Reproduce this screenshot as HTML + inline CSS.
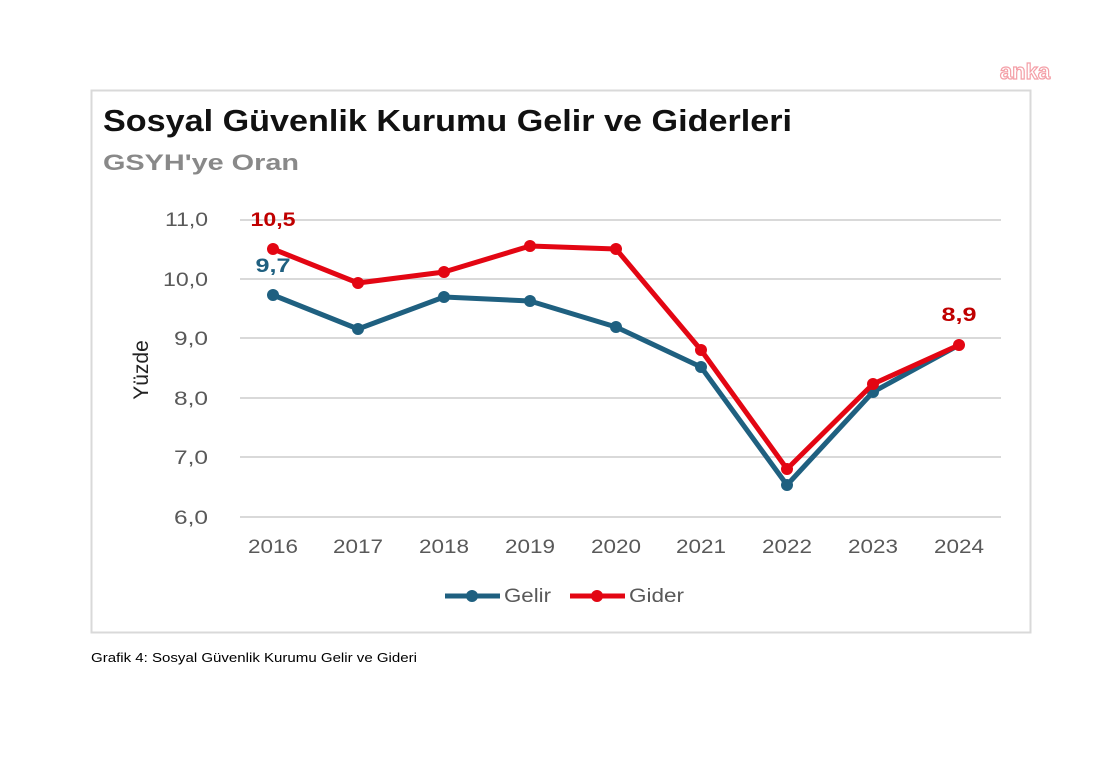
<!DOCTYPE html>
<html><head><meta charset="utf-8"><style>
html,body{margin:0;padding:0;background:#fff;}
svg{display:block;font-family:"Liberation Sans",sans-serif;}
</style></head><body>
<svg width="1112" height="784" viewBox="0 0 1112 784" xmlns="http://www.w3.org/2000/svg">
<rect width="1112" height="784" fill="#fff"/>
<text x="1025" y="79" font-size="22" font-weight="bold" fill="#fff" stroke="#f4a0a8" stroke-width="1.2" text-anchor="middle">anka</text>
<rect x="91.5" y="90.5" width="939" height="542" fill="none" stroke="#d9d9d9" stroke-width="2"/>
<text x="103" y="131" font-size="31" font-weight="bold" fill="#111" textLength="689" lengthAdjust="spacingAndGlyphs">Sosyal Güvenlik Kurumu Gelir ve Giderleri</text>
<text x="103" y="170" font-size="22" font-weight="bold" fill="#898989" textLength="196" lengthAdjust="spacingAndGlyphs">GSYH'ye Oran</text>
<g stroke="#d9d9d9" stroke-width="2">
<line x1="240" x2="1001" y1="220" y2="220"/><line x1="240" x2="1001" y1="279" y2="279"/>
<line x1="240" x2="1001" y1="338" y2="338"/><line x1="240" x2="1001" y1="398" y2="398"/>
<line x1="240" x2="1001" y1="457" y2="457"/><line x1="240" x2="1001" y1="517" y2="517"/>
</g>
<g font-size="19" fill="#595959" text-anchor="end">
<text x="208" y="226" textLength="43" lengthAdjust="spacingAndGlyphs">11,0</text><text x="208" y="286" textLength="45" lengthAdjust="spacingAndGlyphs">10,0</text><text x="208" y="345" textLength="34" lengthAdjust="spacingAndGlyphs">9,0</text>
<text x="208" y="405" textLength="34" lengthAdjust="spacingAndGlyphs">8,0</text><text x="208" y="464" textLength="34" lengthAdjust="spacingAndGlyphs">7,0</text><text x="208" y="524" textLength="34" lengthAdjust="spacingAndGlyphs">6,0</text>
</g>
<text transform="translate(148,370) rotate(-90)" font-size="21" fill="#222" text-anchor="middle">Yüzde</text>
<g font-size="19" fill="#595959" text-anchor="middle">
<text x="273" y="553" textLength="50" lengthAdjust="spacingAndGlyphs">2016</text><text x="358" y="553" textLength="50" lengthAdjust="spacingAndGlyphs">2017</text><text x="444" y="553" textLength="50" lengthAdjust="spacingAndGlyphs">2018</text>
<text x="530" y="553" textLength="50" lengthAdjust="spacingAndGlyphs">2019</text><text x="616" y="553" textLength="50" lengthAdjust="spacingAndGlyphs">2020</text><text x="701" y="553" textLength="50" lengthAdjust="spacingAndGlyphs">2021</text>
<text x="787" y="553" textLength="50" lengthAdjust="spacingAndGlyphs">2022</text><text x="873" y="553" textLength="50" lengthAdjust="spacingAndGlyphs">2023</text><text x="959" y="553" textLength="50" lengthAdjust="spacingAndGlyphs">2024</text>
</g>
<polyline fill="none" stroke="#1f6080" stroke-width="5" stroke-linejoin="round" points="273,295 358,329 444,297 530,301 616,327 701,367 787,485 873,392 959,345"/>
<g fill="#1f6080">
<circle cx="273" cy="295" r="6"/><circle cx="358" cy="329" r="6"/><circle cx="444" cy="297" r="6"/>
<circle cx="530" cy="301" r="6"/><circle cx="616" cy="327" r="6"/><circle cx="701" cy="367" r="6"/>
<circle cx="787" cy="485" r="6"/><circle cx="873" cy="392" r="6"/>
</g>
<polyline fill="none" stroke="#e30613" stroke-width="5" stroke-linejoin="round" points="273,249 358,283 444,272 530,246 616,249 701,350 787,469 873,384 959,345"/>
<g fill="#e30613">
<circle cx="273" cy="249" r="6"/><circle cx="358" cy="283" r="6"/><circle cx="444" cy="272" r="6"/>
<circle cx="530" cy="246" r="6"/><circle cx="616" cy="249" r="6"/><circle cx="701" cy="350" r="6"/>
<circle cx="787" cy="469" r="6"/><circle cx="873" cy="384" r="6"/><circle cx="959" cy="345" r="6"/>
</g>
<g font-size="19" font-weight="bold" text-anchor="middle">
<text x="273" y="226" fill="#c00000" textLength="45" lengthAdjust="spacingAndGlyphs">10,5</text>
<text x="273" y="272" fill="#1f6080" textLength="35" lengthAdjust="spacingAndGlyphs">9,7</text>
<text x="959" y="321" fill="#c00000" textLength="35" lengthAdjust="spacingAndGlyphs">8,9</text>
</g>
<line x1="445" x2="500" y1="596" y2="596" stroke="#1f6080" stroke-width="5"/>
<circle cx="472" cy="596" r="6" fill="#1f6080"/>
<text x="504" y="602" font-size="19" fill="#595959" textLength="47" lengthAdjust="spacingAndGlyphs">Gelir</text>
<line x1="570" x2="625" y1="596" y2="596" stroke="#e30613" stroke-width="5"/>
<circle cx="597" cy="596" r="6" fill="#e30613"/>
<text x="629" y="602" font-size="19" fill="#595959" textLength="55" lengthAdjust="spacingAndGlyphs">Gider</text>
<text x="91" y="662" font-size="13" fill="#000" textLength="326" lengthAdjust="spacingAndGlyphs">Grafik 4: Sosyal Güvenlik Kurumu Gelir ve Gideri</text>
</svg>
</body></html>
